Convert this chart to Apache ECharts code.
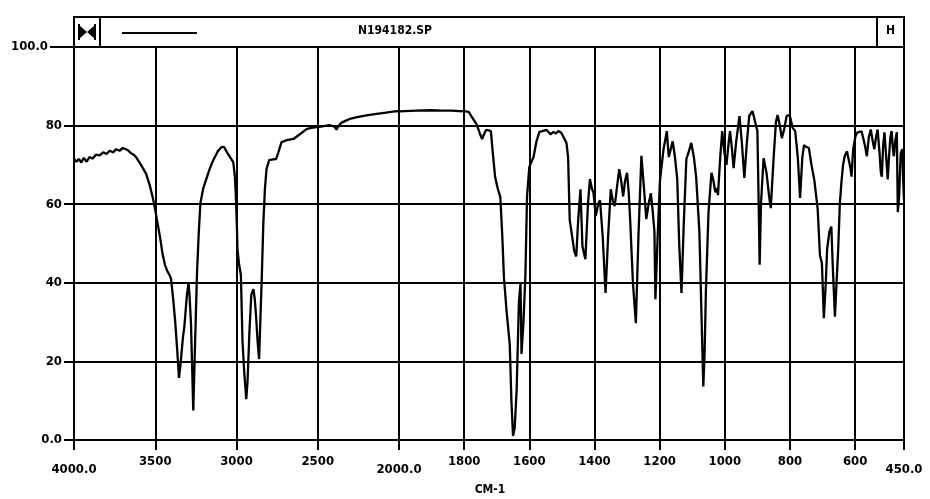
<!DOCTYPE html>
<html><head><meta charset="utf-8">
<script src="https://cdn.jsdelivr.net/npm/echarts@6/dist/echarts.min.js"></script>
<style>html,body{margin:0;padding:0;background:#fff}#chart{width:930px;height:499px}</style>
</head><body><div id="chart"></div>
<script>
// ---- data (wavenumber cm-1, %T) ----
const wavenumbers = [
3998,3985,3970,3955,3940,3922,3905,3885,3865,3842,3820,3800,3780,3760,3740,3720,3700,3689,3670,3650,
3630,3615,3585,3556,3535,3516,3500,3488,3470,3455,3440,3426,3410,3403,3390,3378,3365,3354,3345,3330,
3321,3305,3295,3288,3280,3272,3266,3258,3250,3243,3232,3222,3205,3189,3165,3143,3115,3090,3075,3060,
3040,3030,3020,3010,3005,2998,2994,2985,2973,2963,2952,2940,2932,2920,2909,2896,2888,2880,2870,2861,
2852,2844,2835,2825,2815,2799,2775,2756,2740,2723,2690,2650,2610,2569,2540,2507,2470,2430,2400,2385,
2370,2355,2330,2304,2250,2200,2138,2080,2015,2000,
1946,1900,1869,1840,1814,1795,1786,1775,1762,1752,1745,1738,1733,1725,1718,1712,1705,1697,1689,1683,
1678,1670,1660,1655,1650,1645,1639,1632,1627,1624,1618,1612,1607,1600,1587,1578,1569,1560,1547,1535,
1526,1518,1511,1502,1495,1486,1481,1476,1469,1462,1456,1450,1443,1437,1428,1420,1414,1408,1403,1396,
1389,1383,1375,1366,1358,1350,1344,1338,1330,1324,1318,1312,1306,1300,1295,1291,1282,1273,1265,1256,
1248,1241,1234,1227,1221,1216,1213,1206,1199,1188,1178,1172,1166,1160,1153,1146,1140,1133,1126,1118,
1110,1103,1095,1088,1078,1071,1066,1062,1058,1050,1041,1035,1029,1024,1021,1014,1008,1001,995,989,
984,978,973,965,955,948,940,932,925,915,907,900,896,893,889,881,872,864,859,850,
843,838,831,825,818,810,801,792,784,776,769,762,757,750,742,734,725,715,708,702,
696,690,686,679,673,669,662,657,652,647,642,637,632,625,619,614,611,606,599,593,
587,580,575,570,564,558,552,546,541,536,531,525,521,518,514,510,506,503,500,496,
492,488,484,481,477,472,469,465,460,455,452,450
];
const transmittance = [
71.5,70.8,71.5,70.6,71.8,70.8,72.0,71.6,72.6,72.4,73.2,72.8,73.6,73.2,74.0,73.6,74.3,74.0,73.8,73.0,
72.5,71.8,69.8,67.7,65.0,61.8,58.5,55.7,51.5,47.3,44.5,43.0,41.8,41.0,36.0,30.5,23.0,15.8,19.0,26.0,
28.8,37.0,40.0,36.0,29.5,17.0,7.5,20.0,32.0,42.5,53.0,60.3,64.0,66.0,69.0,71.2,73.5,74.6,74.5,73.3,
72.0,71.5,70.7,67.0,63.0,55.0,48.6,45.0,42.0,25.0,17.0,10.4,15.0,28.0,36.9,38.4,36.0,31.8,25.0,20.6,
32.0,42.0,55.0,64.0,69.0,71.2,71.4,71.5,73.5,75.8,76.3,76.6,77.8,79.1,79.4,79.6,79.8,80.1,79.8,79.0,
80.0,80.7,81.2,81.7,82.2,82.6,83.0,83.3,83.7,83.6,
83.8,83.9,83.8,83.8,83.7,83.6,83.5,82.0,80.4,78.0,76.6,78.0,78.9,78.8,78.6,73.0,66.9,64.0,61.8,52.0,
41.5,33.0,24.2,10.0,1.0,3.0,12.5,35.0,40.0,21.9,30.0,42.0,62.0,69.5,72.0,76.0,78.4,78.6,78.9,77.8,
78.4,78.0,78.6,78.2,77.1,75.6,72.0,56.0,52.0,48.0,46.7,56.0,63.8,49.3,46.0,60.0,66.4,64.0,62.8,57.0,
60.0,61.0,52.0,37.4,52.0,63.8,61.0,59.5,65.0,68.9,66.0,62.0,66.0,68.0,63.0,57.0,40.0,29.7,52.0,72.3,
64.0,56.2,60.0,62.8,58.0,53.0,35.8,52.0,66.0,74.0,78.6,72.0,74.0,76.0,72.0,66.4,50.0,37.4,55.0,71.5,
73.5,75.6,72.0,67.0,53.0,30.0,13.6,22.0,38.0,58.0,68.0,66.0,63.0,64.0,62.3,72.0,78.6,73.0,70.0,75.0,
78.6,74.0,69.2,76.0,82.4,76.0,66.7,76.0,82.5,83.7,81.0,78.6,60.0,44.6,60.0,71.7,68.0,62.0,59.0,72.0,
81.0,82.7,80.0,76.8,79.0,82.5,82.7,79.5,78.6,72.0,61.6,72.0,75.0,74.6,74.3,70.0,66.0,58.8,47.0,45.0,
31.0,40.0,48.5,53.0,54.3,45.0,31.4,40.0,48.5,60.0,65.6,70.0,72.2,73.5,73.2,69.0,67.0,74.0,77.3,78.3,
78.3,78.5,78.6,75.0,72.2,77.0,79.0,76.0,74.0,77.0,79.0,73.0,68.0,67.0,75.0,78.3,78.3,70.0,66.3,72.0,
77.0,78.6,74.0,72.2,76.0,78.3,58.0,62.0,73.0,74.0,65.0,61.0
];
// ---- ticks / labels ----
const xTicksHigh  = [4000, 3500, 3000, 2500, 2000];
const xLabelsHigh = ['4000.0', '3500', '3000', '2500', '2000.0'];
const xTicksLow   = [2000, 1800, 1600, 1400, 1200, 1000, 800, 600, 450];
const xLabelsLow  = ['', '1800', '1600', '1400', '1200', '1000', '800', '600', '450.0'];
const yTicks      = [0, 20, 40, 60, 80, 100];
const yTickLabels = ['0.0', '20', '40', '60', '80', '100.0'];
const fileTitle   = 'N194182.SP';
const xAxisTitle  = 'CM-1';
const lowLabels   = ['4000.0', '2000.0', '450.0'];

const FONT = '"DejaVu Sans Condensed","Liberation Sans Narrow","DejaVu Sans",sans-serif';
const BLACK = '#000';
const G = { left: 74, split: 399, right: 904, top: 47, bottom: 440 };

const hi = [], lo = [];
wavenumbers.forEach((w, i) => {
  if (w >= 2000) hi.push([w, transmittance[i]]);
  if (w <= 2000) lo.push([w, transmittance[i]]);
});

function xFmt(ticks, labels) {
  return v => {
    const i = ticks.indexOf(v);
    if (i < 0 || !labels[i]) return '';
    const t = labels[i];
    return lowLabels.indexOf(t) >= 0 ? '{low|' + t + '}' : '{n|' + t + '}';
  };
}
const rich = {
  n:   { fontFamily: FONT, fontWeight: 'bold', fontSize: 13, color: BLACK, padding: [2, 0, 0, 0] },
  low: { fontFamily: FONT, fontWeight: 'bold', fontSize: 13, color: BLACK, padding: [10, 0, 0, 0] }
};
const yRich = {
  n:   { fontFamily: FONT, fontWeight: 'bold', fontSize: 13, color: BLACK },
  top: { fontFamily: FONT, fontWeight: 'bold', fontSize: 13, color: BLACK, padding: [0, 14, 0, 0] }
};
const lineS = { color: BLACK, width: 2 };

const chart = echarts.init(document.getElementById('chart'), null, { renderer: 'canvas' });
chart.setOption({
  backgroundColor: '#fff',
  animation: false,
  grid: [
    { left: G.left, top: G.top, width: G.split - G.left, height: G.bottom - G.top },
    { left: G.split, top: G.top, width: G.right - G.split, height: G.bottom - G.top }
  ],
  xAxis: [
    { gridIndex: 0, type: 'value', min: 2000, max: 4000, interval: 500, inverse: true,
      axisLine: { show: true, lineStyle: lineS },
      axisTick: { show: true, length: 10, lineStyle: lineS },
      splitLine: { show: true, lineStyle: lineS },
      axisLabel: { show: true, margin: 13, showMinLabel: true, showMaxLabel: true,
        formatter: xFmt(xTicksHigh, xLabelsHigh), rich: rich } },
    { gridIndex: 1, type: 'value', min: 450, max: 2000, inverse: true,
      axisLine: { show: true, lineStyle: lineS },
      axisTick: { show: true, length: 10, lineStyle: lineS, customValues: xTicksLow },
      splitLine: { show: true, lineStyle: lineS },
      axisLabel: { show: true, margin: 13, showMinLabel: true, showMaxLabel: true,
        customValues: xTicksLow.slice(1),
        formatter: xFmt(xTicksLow, xLabelsLow), rich: rich } }
  ],
  yAxis: [
    { gridIndex: 0, type: 'value', min: 0, max: 100, interval: 20,
      axisLine: { show: true, lineStyle: lineS },
      axisTick: { show: true, length: 10, lineStyle: lineS },
      splitLine: { show: true, lineStyle: lineS },
      axisLabel: { show: true, margin: 12, rich: yRich,
        formatter: v => { const i = yTicks.indexOf(v); if (i < 0) return '';
          return (v === 100 ? '{top|' : '{n|') + yTickLabels[i] + '}'; } } },
    { gridIndex: 1, type: 'value', min: 0, max: 100, interval: 20,
      axisLine: { show: false }, axisTick: { show: false }, axisLabel: { show: false },
      splitLine: { show: true, lineStyle: lineS } }
  ],
  series: [
    { type: 'line', xAxisIndex: 0, yAxisIndex: 0, data: hi, showSymbol: false, symbol: 'none',
      lineStyle: { color: BLACK, width: 2.3 }, z: 5 },
    { type: 'line', xAxisIndex: 1, yAxisIndex: 1, data: lo, showSymbol: false, symbol: 'none',
      lineStyle: { color: BLACK, width: 2.3 }, z: 5 }
  ],
  graphic: [
    { type: 'rect', shape: { x: G.left, y: 17, width: G.right - G.left, height: G.top - 17 },
      style: { fill: '#fff', stroke: BLACK, lineWidth: 2 }, z: 10 },
    { type: 'rect', shape: { x: G.left, y: 17, width: 26, height: G.top - 17 },
      style: { fill: 'none', stroke: BLACK, lineWidth: 2 }, z: 11 },
    { type: 'polygon', shape: { points: [[79, 25], [87, 32], [79, 39]] }, style: { fill: BLACK }, z: 12 },
    { type: 'polygon', shape: { points: [[95, 25], [87, 32], [95, 39]] }, style: { fill: BLACK }, z: 12 },
    { type: 'line', shape: { x1: 79, y1: 24, x2: 79, y2: 40 }, style: { stroke: BLACK, lineWidth: 2 }, z: 12 },
    { type: 'line', shape: { x1: 95, y1: 24, x2: 95, y2: 40 }, style: { stroke: BLACK, lineWidth: 2 }, z: 12 },
    { type: 'line', shape: { x1: 122, y1: 33, x2: 197, y2: 33 }, style: { stroke: BLACK, lineWidth: 2 }, z: 12 },
    { type: 'line', shape: { x1: 50, y1: 47, x2: 64, y2: 47 }, style: { stroke: BLACK, lineWidth: 2 }, z: 12 },
    { type: 'text', x: 395, y: 31, style: { text: fileTitle, fontFamily: FONT, fontWeight: 'bold', fontSize: 12,
      fill: BLACK, align: 'center', verticalAlign: 'middle' }, z: 12 },
    { type: 'rect', shape: { x: G.right - 27, y: 17, width: 27, height: G.top - 17 },
      style: { fill: 'none', stroke: BLACK, lineWidth: 2 }, z: 11 },
    { type: 'text', x: G.right - 13.5, y: 31, style: { text: 'H', fontFamily: FONT, fontWeight: 'bold', fontSize: 12,
      fill: BLACK, align: 'center', verticalAlign: 'middle' }, z: 12 },
    { type: 'text', x: 490, y: 490, style: { text: xAxisTitle, fontFamily: FONT, fontWeight: 'bold', fontSize: 12,
      fill: BLACK, align: 'center', verticalAlign: 'middle' }, z: 12 }
  ]
});
</script></body></html>
